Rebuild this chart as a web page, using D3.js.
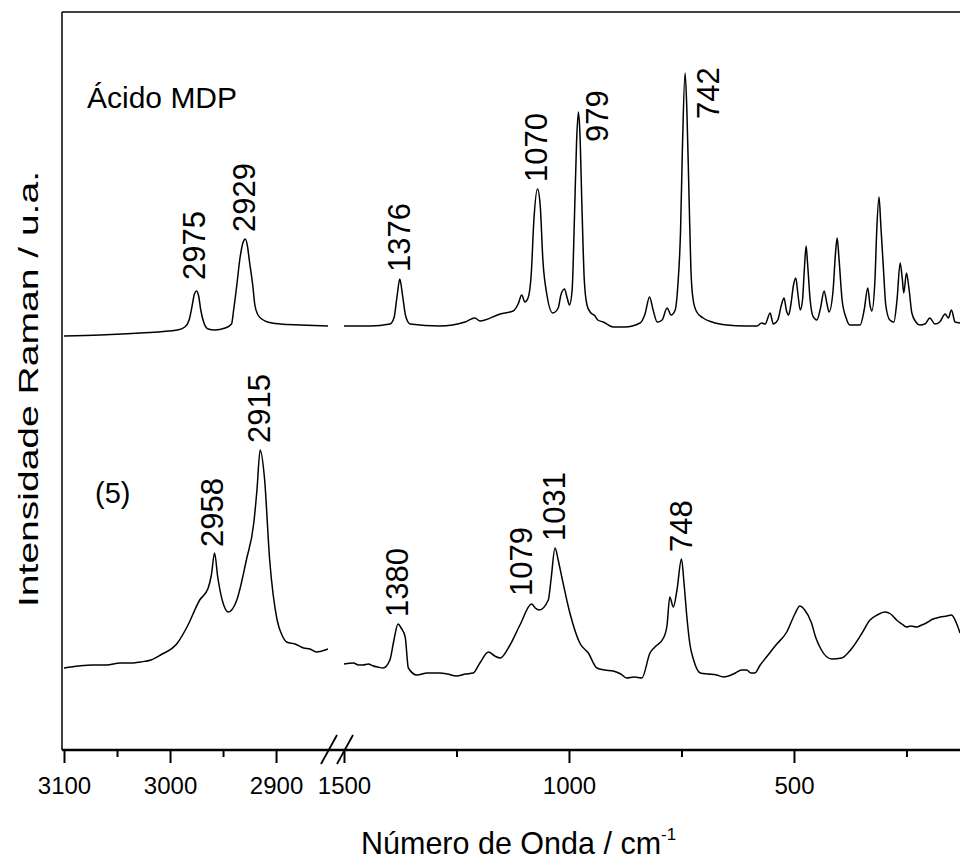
<!DOCTYPE html>
<html>
<head>
<meta charset="utf-8">
<script src="https://cdn.jsdelivr.net/npm/d3@7"></script>
<style>
  body { margin: 0; background: #fff; }
  text { font-family: "Liberation Sans", Arial, sans-serif; fill: #000; }
</style>
</head>
<body>
<div id="chart"></div>
<script>
// spectra: [wavenumber cm-1, intensity u.a.]
var mdpHigh = [[3100,414],[3066,415],[3028,417],[2993,420],[2986,423],[2982,430],[2979,445],[2977,456],[2975,459],
  [2973,454],[2971,440],[2968,427],[2964,421],[2958,420],[2948,422],[2942,426],[2940,440],[2937,465],[2934,492],
  [2931,508],[2929,511],[2927,504],[2925,488],[2922,465],[2920,445],[2917,435],[2912,430],[2908,428],[2896,426],
  [2877,425],[2851,424]];

var mdpLow = [[1500,424],[1442,424],[1398,426],[1389,432],[1382,454],[1376,471],[1370,455],[1363,434],[1353,426],
  [1287,424],[1231,428],[1209,432],[1198,429],[1153,436],[1124,439],[1113,446],[1105,455],[1098,448],[1091,452],
  [1084,475],[1078,530],[1070,561],[1064,545],[1058,490],[1049,455],[1036,437],[1024,442],[1018,455],[1010,461],
  [1004,452],[999,445],[993,460],[988,530],[983,610],[979,638],[976,620],[971,540],[966,470],[960,445],[953,438],
  [942,434],[936,430],[924,428],[902,423],[876,423],[842,427],[831,436],[821,453],[813,440],[804,428],[793,430],
  [782,442],[773,435],[764,440],[758,465],[752,520],[748,600],[742,677],[738,640],[733,550],[729,480],[724,450],
  [716,438],[702,432],[682,428],[649,425],[609,424],[582,424],[572,427],[564,426],[553,437],[546,426],[536,430],
  [528,445],[522,452],[517,440],[512,435],[507,445],[501,465],[496,472],[491,455],[486,440],[481,450],[477,480],
  [473,504],[470,488],[464,450],[458,434],[449,430],[441,442],[433,459],[427,447],[422,438],[413,460],[408,495],
  [404,512],[400,492],[393,450],[384,432],[376,425],[353,425],[344,440],[336,462],[331,445],[327,439],[320,470],
  [316,520],[311,553],[307,525],[301,480],[296,445],[287,430],[278,428],[271,450],[264,487],[259,470],[256,457],
  [250,477],[244,460],[238,437],[229,428],[220,425],[209,426],[198,432],[187,426],[176,428],[164,436],[157,432],
  [150,440],[142,428],[131,427]];

var s5High = [[3100,82],[3086,84],[3073,85],[3060,85],[3047,87],[3035,87],[3028,88],[3018,90],[3009,95],[2993,107],
  [2984,123],[2972,150],[2964,162],[2961,175],[2958,197],[2955,173],[2950,147],[2945,138],[2937,150],[2928,190],
  [2921,227],[2918,260],[2915,300],[2911,273],[2906,190],[2899,130],[2894,114],[2890,108],[2882,106],[2874,102],
  [2868,101],[2862,98],[2851,101]];

var s5Low = [[1500,86],[1479,87],[1468,85],[1458,85],[1446,86],[1435,84],[1425,83],[1413,82],[1398,90],[1389,110],
  [1380,126],[1373,122],[1364,113],[1357,82],[1338,75],[1315,77],[1287,77],[1270,76],[1250,74],[1230,76],[1213,77],
  [1198,87],[1179,98],[1165,94],[1153,92],[1131,105],[1109,125],[1083,146],[1075,142],[1066,140],[1046,150],
  [1040,170],[1031,202],[1024,190],[1016,173],[998,137],[976,107],[957,97],[938,82],[920,80],[902,79],[885,76],
  [872,72],[855,73],[838,72],[820,97],[809,103],[790,112],[782,125],[776,153],[768,143],[760,160],[750,191],
  [744,165],[738,133],[731,105],[723,90],[708,77],[690,76],[672,75],[657,73],[630,77],[617,80],[605,80],[596,77],
  [587,77],[575,85],[561,93],[540,105],[516,118],[498,136],[487,144],[476,140],[461,127],[452,113],[439,100],
  [416,91],[394,92],[380,97],[369,103],[350,116],[331,130],[315,135],[298,138],[285,136],[272,130],[260,126],
  [250,123],[240,124],[228,123],[216,125],[206,127],[191,131],[175,133],[160,134],[150,135],[139,127],[131,117]];

var mdpPeaks = [2975, 2929, 1376, 1070, 979, 742];
var s5Peaks = [2958, 2915, 1380, 1079, 1031, 748];

var highTicks = [3100, 3000, 2900], highMinor = [3050, 2950];
var lowTicks = [1500, 1000, 500], lowMinor = [1250, 750, 250];

// label offsets from the peak top, px
var labelNudge = { "979": [30, 30], "742": [34, 46], "1079": [-1.5, -8], "2975": [8.5, -11], "2958": [8.5, -6] };

var W = 960, H = 859;
var xHigh = d3.scaleLinear().domain([3100, 2851]).range([64, 328]),
    xLow = d3.scaleLinear().domain([1500, 131]).range([344, 960]),
    y = d3.scaleLinear().domain([0, 738]).range([750, 12]);

var svg = d3.select("#chart").append("svg")
    .attr("width", W)
    .attr("height", H);

// frame: left and top
svg.append("line").attr("x1", 62).attr("x2", 62).attr("y1", 12).attr("y2", 750)
  .attr("stroke", "#000").attr("stroke-width", 1.5);
svg.append("line").attr("x1", 62).attr("x2", W).attr("y1", 12).attr("y2", 12)
  .attr("stroke", "#000").attr("stroke-width", 1.5);

function drawAxis(scale, major, minor) {
  var g = svg.append("g").attr("transform", "translate(0,750)");
  g.call(d3.axisBottom(scale).tickValues(major).tickSize(13).tickPadding(14).tickFormat(d3.format("d")));
  g.append("g").call(d3.axisBottom(scale).tickValues(minor).tickSize(7).tickFormat(""));
  g.selectAll(".domain").remove();
  g.selectAll(".tick line").attr("stroke", "#000").attr("stroke-width", 2);
  g.selectAll(".tick text").attr("font-size", 24).attr("font-family", "Liberation Sans, Arial, sans-serif");
}
drawAxis(xHigh, highTicks, highMinor);
drawAxis(xLow, lowTicks, lowMinor);

svg.append("line").attr("x1", 62).attr("x2", W).attr("y1", 750).attr("y2", 750)
  .attr("stroke", "#000").attr("stroke-width", 2.6);

// axis break marks
[xHigh.range()[1] + 1, xLow.range()[0] + 1].forEach(function(cx) {
  svg.append("line").attr("x1", cx - 8).attr("x2", cx + 8).attr("y1", 764).attr("y2", 735)
    .attr("stroke", "#000").attr("stroke-width", 1.8);
});

function trace(data, xs) {
  var line = d3.line()
    .x(function(d) { return xs(d[0]); })
    .y(function(d) { return y(d[1]); })
    .curve(d3.curveMonotoneX);
  svg.append("path").datum(data)
    .attr("d", line)
    .attr("fill", "none")
    .attr("stroke", "#000")
    .attr("stroke-width", 1.5)
    .attr("stroke-linejoin", "round");
}
trace(mdpHigh, xHigh);
trace(mdpLow, xLow);
trace(s5High, xHigh);
trace(s5Low, xLow);

function peakLabels(peaks, hi, lo) {
  peaks.forEach(function(wn) {
    var series = wn > 2000 ? hi : lo,
        xs = wn > 2000 ? xHigh : xLow,
        top = d3.max(series.filter(function(p) { return Math.abs(p[0] - wn) <= 5; }), function(p) { return p[1]; }),
        n = labelNudge[wn] || [10, -7];
    svg.append("text")
      .attr("transform", "translate(" + (xs(wn) + n[0]) + "," + (y(top) + n[1]) + ") rotate(-90)")
      .attr("font-size", 31)
      .text(wn);
  });
}
peakLabels(mdpPeaks, mdpHigh, mdpLow);
peakLabels(s5Peaks, s5High, s5Low);

svg.append("text").attr("x", 87).attr("y", 108).attr("font-size", 30).text("Ácido MDP");
svg.append("text").attr("x", 95).attr("y", 503).attr("font-size", 29).text("(5)");

svg.append("text")
  .attr("transform", "translate(38,389) rotate(-90)")
  .attr("text-anchor", "middle")
  .attr("font-size", 28)
  .attr("textLength", 436)
  .attr("lengthAdjust", "spacingAndGlyphs")
  .text("Intensidade Raman / u.a.");

var xt = svg.append("text").attr("x", 361).attr("y", 854).attr("font-size", 30.5);
xt.append("tspan").text("Número de Onda / cm");
xt.append("tspan").attr("dy", -14).attr("font-size", 17).text("-1");
</script>
</body>
</html>
